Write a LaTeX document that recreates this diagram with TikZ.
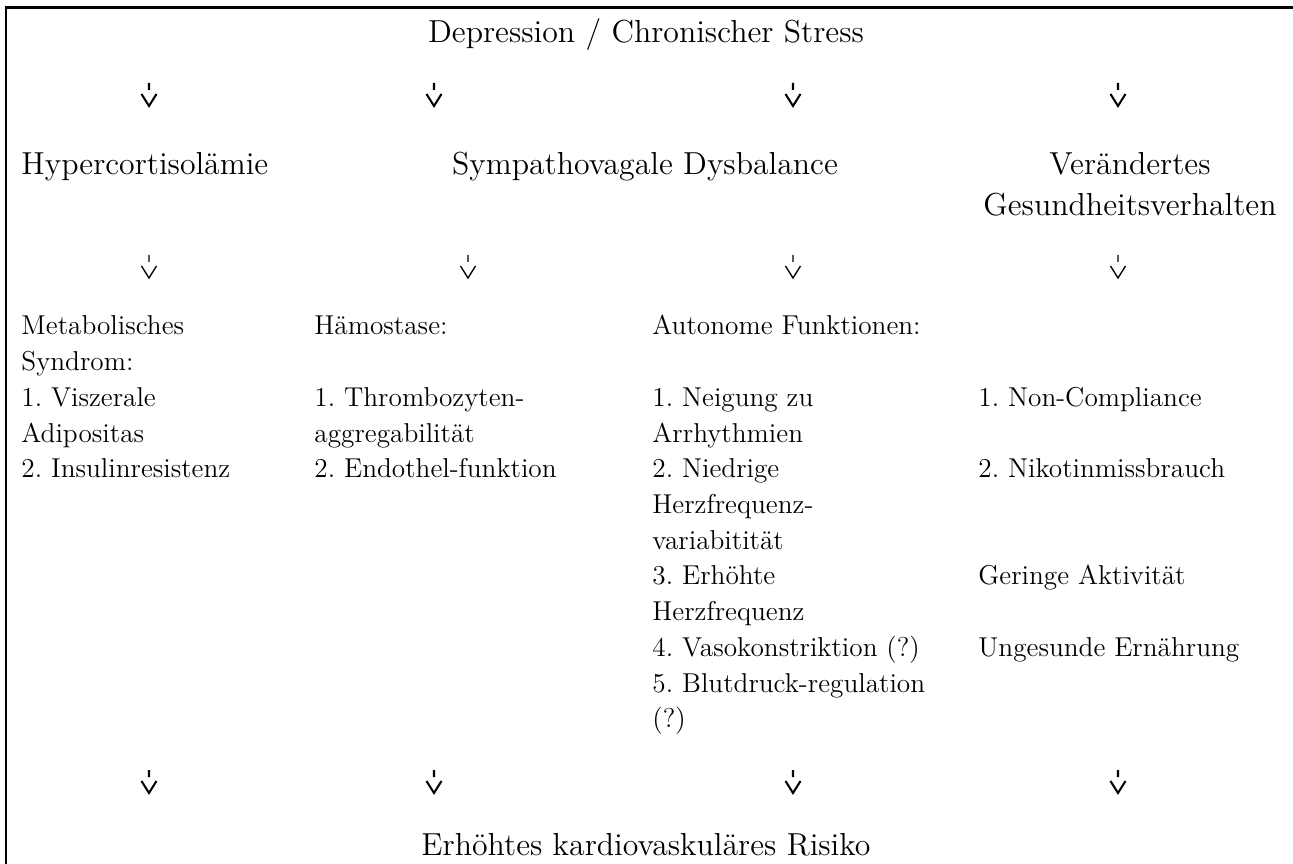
\documentclass[tikz,border=0pt]{standalone}
\tikzset{
  downglyph/.pic={\draw[pic actions,line cap=butt,line join=miter] (0,0) -- (0,7) (-7.5,11) -- (0,23) -- (7.5,11);}
}
\frenchspacing
\begin{document}
\begin{tikzpicture}[x=0.44pt,y=-0.44pt,
  body/.style={inner sep=0pt,anchor=base west,font=\fontsize{12}{15}\selectfont\frenchspacing},
  head/.style={inner sep=0pt,anchor=base,font=\fontsize{14}{18}\selectfont\frenchspacing},
  glyph/.style={line width=0.9pt},
  thinglyph/.style={line width=0.6pt},
  frame/.style={line width=1pt}]
\useasboundingbox (0,0) rectangle (1293,864);
\coordinate (fb) at (6.2,870);
\coordinate (fc) at (6.2,7.5);
\coordinate (fr) at (1300,7.5);
\draw[frame] (fb) -- (fc) -- (fr);

% title and headings
\node[head] (title) at (646,43) {Depression / Chronischer Stress};
\node[head,anchor=base west] (hyper) at (21,175) {Hypercortisol\"amie};
\node[head] (symp) at (645,175) {Sympathovagale Dysbalance};
\node[head] (ver1) at (1130,175) {Ver\"andertes};
\node[head] (ver2) at (1130,216) {Gesundheitsverhalten};
\node[head] (risk) at (646,855) {Erh\"ohtes kardiovaskul\"ares Risiko};

% glyph arrows
\pic[glyph] (ga1) at (149,83) {downglyph};
\pic[glyph] (ga2) at (434,83) {downglyph};
\pic[glyph] (ga3) at (793,83) {downglyph};
\pic[glyph] (ga4) at (1118,83) {downglyph};
\pic[thinglyph] (gb1) at (149,255) {downglyph};
\pic[thinglyph] (gb2) at (468,255) {downglyph};
\pic[thinglyph] (gb3) at (793,255) {downglyph};
\pic[thinglyph] (gb4) at (1118,255) {downglyph};
\pic[glyph] (gc1) at (149,770) {downglyph};
\pic[glyph] (gc2) at (434,770) {downglyph};
\pic[glyph] (gc3) at (793,770) {downglyph};
\pic[glyph] (gc4) at (1118,770) {downglyph};

% column 1
\node[body] (a0) at (21,335) {Metabolisches};
\node[body] (a1) at (21,370.7) {Syndrom:};
\node[body] (a2) at (21,406.4) {1. Viszerale};
\node[body] (a3) at (21,442.1) {Adipositas};
\node[body] (a4) at (21,477.8) {2. Insulinresistenz};

% column 2
\node[body] (b0) at (314,335) {H\"amostase:};
\node[body] (b2) at (314,406.4) {1. Thrombozyten-};
\node[body] (b3) at (314,442.1) {aggregabilit\"at};
\node[body] (b4) at (314,477.8) {2. Endothel-funktion};

% column 3
\node[body] (c0) at (652,335) {Autonome Funktionen:};
\node[body] (c2) at (652,406.4) {1. Neigung zu};
\node[body] (c3) at (652,442.1) {Arrhythmien};
\node[body] (c4) at (652,477.8) {2. Niedrige};
\node[body] (c5) at (652,513.5) {Herzfrequenz-};
\node[body] (c6) at (652,549.2) {variabitit\"at};
\node[body] (c7) at (652,584.9) {3. Erh\"ohte};
\node[body] (c8) at (652,620.6) {Herzfrequenz};
\node[body] (c9) at (652,656.3) {4. Vasokonstriktion (?)};
\node[body] (c10) at (652,692) {5. Blutdruck-regulation};
\node[body] (c11) at (652,727.7) {(?)};

% column 4
\node[body] (d2) at (978,406.4) {1. Non-Compliance};
\node[body] (d4) at (978,477.8) {2. Nikotinmissbrauch};
\node[body] (d7) at (978,584.9) {Geringe Aktivit\"at};
\node[body] (d9) at (978,656.3) {Ungesunde Ern\"ahrung};
\end{tikzpicture}
\end{document}
